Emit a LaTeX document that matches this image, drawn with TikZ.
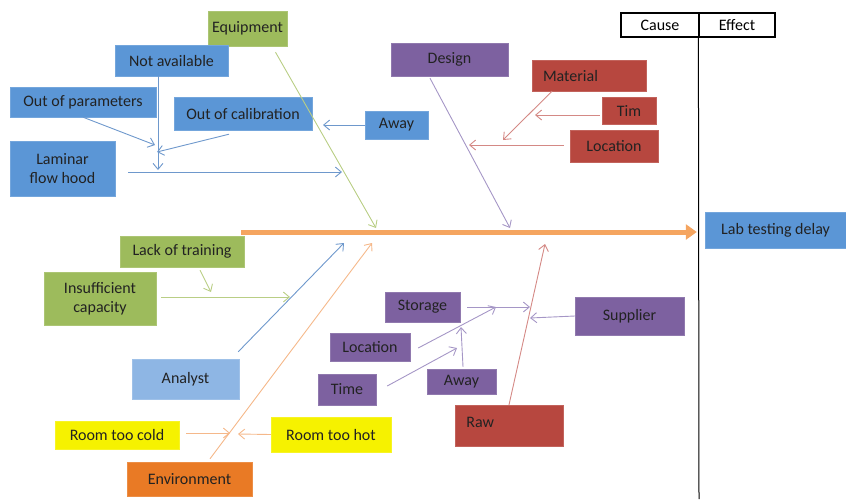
\documentclass[tikz,border=0pt]{standalone}
\usepackage{fontspec}
\setmainfont{Carlito}
\usepackage{xcolor}
\usepackage{tikz}
\usetikzlibrary{arrows.meta,calc}
\definecolor{bluebox}{HTML}{5B96D6}
\definecolor{lightblue}{HTML}{8EB6E4}
\definecolor{greenbox}{HTML}{9DBB5C}
\definecolor{purplebox}{HTML}{7D61A0}
\definecolor{redbox}{HTML}{B7473F}
\definecolor{yellowbox}{HTML}{F6F200}
\definecolor{orangebox}{HTML}{E97A25}
\definecolor{spinecol}{HTML}{F5A560}
\definecolor{ink}{HTML}{222222}
\definecolor{blueline}{HTML}{6E98CC}
\definecolor{greenline}{HTML}{B9CE85}
\definecolor{purpleline}{HTML}{A596C6}
\definecolor{redline}{HTML}{D48985}
\definecolor{orangeline}{HTML}{F5B88A}
\tikzset{
  cbox/.style={rectangle, draw=#1!85!white, fill=#1, text=ink, align=center,
               font=\fontsize{16}{18.5}\selectfont, inner sep=2pt},
  bl/.style={cbox=bluebox},
  lb/.style={cbox=lightblue},
  gr/.style={cbox=greenbox},
  pu/.style={cbox=purplebox},
  rd/.style={cbox=redbox},
  ye/.style={cbox=yellowbox},
  og/.style={cbox=orangebox},
  sz/.style 2 args={minimum width=#1pt, minimum height=#2pt},
  bone/.style={-{Straight Barb[length=6pt,width=10pt]}, line width=0.9pt, draw=#1},
  spine/.style={-{Triangle[length=11pt,width=15pt]}, line width=5pt, draw=spinecol},
  ce/.style={rectangle, draw=black, line width=1.2pt, font=\fontsize{16}{18}\selectfont,
             minimum height=24pt, inner sep=0pt}
}

\begin{document}
\begin{tikzpicture}[x=1pt,y=-1pt]
  \useasboundingbox (0,0) rectangle (846,499);

  % cause / effect header
  \node[ce, minimum width=78pt] (cause) at (660,25) {Cause};
  \node[ce, minimum width=76pt] (effect) at (737,25) {Effect};
  \coordinate (cebot) at (699,499);
  \draw[line width=1pt] (effect.south west) -- (cebot);

  % head
  \node[bl, sz={141}{36}] (lab) at (775.5,230) {Lab testing delay};
  \coordinate (spst) at (241,232);
  \draw[spine] (spst) -- ([xshift=-8pt]lab.west |- spst);

  % equipment
  \node[gr, sz={79}{35}] (equip) at (247.5,28.5) {Equipment};
  \node[bl, sz={113}{31}] (notavail) at (171.5,60.5) {Not available};
  \node[bl, sz={146}{30}] (outpar) at (83,102) {Out of parameters};
  \node[bl, sz={138}{33}] (outcal) at (243,113.5) {Out of calibration};
  \node[bl, sz={63}{28}] (awayb) at (396.5,125) {Away};
  \node[bl, sz={105}{55}] (laminar) at (62.5,168.5) {Laminar\\flow hood};
  \coordinate (eqtip) at (376,228);
  \coordinate (lamtip) at (342,172);
  \coordinate (natip) at (158,170);
  \coordinate (optip) at (155,145);
  \coordinate (octip) at (157,152);
  \coordinate (awtip) at (323,125);
  \draw[bone=greenline] ([shift={(28,6)}]equip.south) -- (eqtip);
  \draw[bone=blueline] ([shift={(13,3.5)}]laminar.east) -- (lamtip);
  \draw[bone=blueline] ([shift={(-13.5,0)}]notavail.south) -- (natip);
  \draw[bone=blueline] (outpar.south) -- (optip);
  \draw[bone=blueline] ([shift={(-14,4)}]outcal.south) -- (octip);
  \draw[bone=blueline] (awayb.west) -- (awtip);

  % design
  \node[pu, sz={117}{33}] (design) at (449.5,59.5) {Design};
  \node[rd, sz={114}{31}, text width=92pt, align=left] (material) at (589,75.5) {Material};
  \node[rd, sz={54}{27}] (tim) at (629,110.5) {Tim};
  \node[rd, sz={88}{32}] (locr) at (614,146) {Location};
  \coordinate (destip) at (510,228);
  \coordinate (mattip) at (503,140);
  \coordinate (timtip) at (535,115);
  \coordinate (loctip) at (469,145);
  \draw[bone=purpleline] ([shift={(-19.5,2)}]design.south) -- (destip);
  \draw[bone=redline] ([shift={(-37,0)}]material.south) -- (mattip);
  \draw[bone=redline] ([shift={(-2,4.5)}]tim.west) -- (timtip);
  \draw[bone=redline] ([shift={(-6,-1)}]locr.west) -- (loctip);

  % analyst
  \node[gr, sz={124}{31}] (lack) at (182,251.5) {Lack of training};
  \node[gr, sz={112}{53}] (insuf) at (100,298.5) {Insufficient\\capacity};
  \node[lb, sz={107}{40}] (analyst) at (185.5,379) {Analyst};
  \coordinate (lacktip) at (211,292);
  \coordinate (instip) at (290,297);
  \coordinate (antip) at (344,243);
  \draw[bone=greenline] ([shift={(18,3)}]lack.south) -- (lacktip);
  \draw[bone=greenline] ([shift={(5,-1.5)}]insuf.east) -- (instip);
  \draw[bone=blueline] ([shift={(-1,-7)}]analyst.north east) -- (antip);

  % environment
  \node[ye, sz={124}{28}] (cold) at (117,435) {Room too cold};
  \node[ye, sz={120}{35}] (hot) at (331,434.5) {Room too hot};
  \node[og, sz={125}{34}] (env) at (189.5,479) {Environment};
  \coordinate (envtip) at (372,243);
  \coordinate (coldtip) at (230,433);
  \coordinate (hottip) at (238,434);
  \draw[bone=orangeline] ([shift={(20.5,-3)}]env.north) -- (envtip);
  \draw[bone=orangeline] ([shift={(7,-2)}]cold.east) -- (coldtip);
  \draw[bone=orangeline] (hot.west) -- (hottip);

  % raw
  \node[pu, sz={75}{30}] (storage) at (422.5,307) {Storage};
  \node[pu, sz={80}{28}] (locp) at (370,347) {Location};
  \node[pu, sz={58}{31}] (time) at (347,389.5) {Time};
  \node[pu, sz={69}{25}] (awayp) at (461.5,381.5) {Away};
  \node[pu, sz={109}{38}] (supplier) at (629.5,316) {Supplier};
  \node[rd, sz={108}{41}, label={[anchor=north west, xshift=8pt, yshift=-9pt,
        font=\fontsize{16}{18.5}\selectfont, text=ink]north west:Raw}] (raw) at (509,425.5) {};
  \coordinate (rawtip) at (545,244);
  \coordinate (suptip) at (530,318);
  \coordinate (stotip) at (530,307);
  \coordinate (lptip) at (496,307);
  \coordinate (ttip) at (457,348);
  \coordinate (aptip) at (461,327);
  \draw[bone=redline] (raw.north) -- (rawtip);
  \draw[bone=purpleline] (supplier.west) -- (suptip);
  \draw[bone=purpleline] ([shift={(7,0)}]storage.east) -- (stotip);
  \draw[bone=purpleline] ([shift={(8,1)}]locp.east) -- (lptip);
  \draw[bone=purpleline] ([shift={(11,-3.5)}]time.east) -- (ttip);
  \draw[bone=purpleline] ([shift={(1.5,-2)}]awayp.north) -- (aptip);
\end{tikzpicture}
\end{document}
